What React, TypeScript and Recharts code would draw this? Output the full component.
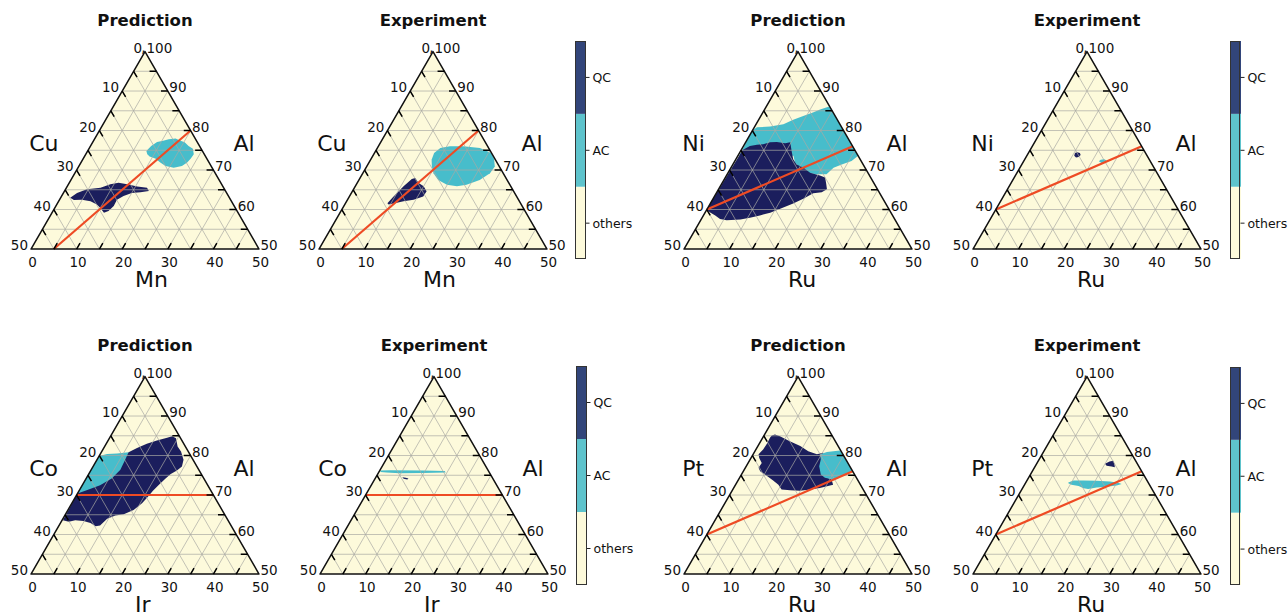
import React from 'react';
import { ScatterChart, Scatter, XAxis, YAxis, BarChart, Bar } from 'recharts';

type Pt = [number, number]; // [bottom-axis element %, Al %]

// ---------------- data ----------------
const sideTicks = [0, 10, 20, 30, 40, 50];
const alTicks = [50, 60, 70, 80, 90, 100];
const gridSteps = [5, 10, 15, 20, 25, 30, 35, 40, 45];
const phaseNames = ['others', 'AC', 'QC'];
const phaseShares = [1, 1, 1];

// Al-Cu-Mn  ([Mn, Al])
const cuMnPredAC: Pt[] = [[12.9, 74.8], [13.3, 76.1], [14.1, 77.1], [15.3, 77.4], [16.3, 77.8], [17.7, 78.0], [19.1, 77.4], [20.2, 77.0], [21.5, 76.1], [22.8, 75.4], [23.7, 74.0], [23.6, 72.9], [23.3, 71.9], [22.6, 71.0], [21.0, 70.6], [19.0, 71.0], [17.4, 71.9], [15.8, 72.9], [14.3, 73.4], [13.5, 74.0]];
const cuMnPredQC: Pt[] = [[2.1, 63.0], [3.0, 64.2], [4.7, 65.1], [7.5, 65.5], [9.2, 66.4], [10.8, 66.8], [12.9, 66.4], [15.4, 65.8], [17.7, 65.5], [18.5, 64.7], [16.8, 64.4], [15.0, 64.2], [13.6, 63.4], [12.6, 62.5], [12.7, 60.9], [12.2, 59.6], [11.4, 59.2], [10.0, 60.4], [8.8, 61.3], [7.0, 62.1], [4.9, 62.5], [3.2, 62.4]];
const cuMnExpAC: Pt[] = [[13.4, 72.6], [13.1, 74.3], [13.8, 75.6], [15.7, 76.0], [18.6, 76.0], [22.5, 75.6], [25.6, 74.3], [27.0, 72.8], [28.1, 70.9], [27.9, 69.2], [26.5, 67.5], [24.2, 66.3], [22.3, 65.9], [19.9, 66.3], [17.4, 67.5], [15.5, 69.2], [14.3, 70.9]];
const cuMnExpQC: Pt[] = [[9.2, 61.6], [9.7, 63.3], [10.6, 65.9], [11.5, 67.7], [12.1, 68.0], [13.5, 66.7], [15.0, 65.9], [16.3, 64.6], [16.2, 63.3], [14.5, 62.5], [12.5, 62.1], [10.6, 61.5], [9.6, 61.3]];
const cuMnCut: Pt[] = [[5, 50], [20, 80]];

// Al-Ni-Ru  ([Ru, Al])
const niRuPredAC: Pt[] = [[0, 80.0], [0.6, 80.8], [3.4, 81.0], [6.0, 81.6], [7.6, 82.7], [9.3, 83.7], [11.1, 84.6], [12.2, 85.3], [13.8, 86.1], [26.4, 73.6], [25.6, 72.3], [23.9, 71.4], [22.5, 70.6], [21.8, 68.9], [19.6, 68.9], [17.2, 69.3], [15.1, 70.6], [13.4, 71.9], [12.2, 73.6], [8.5, 73.6], [0.3, 73.6]];
const niRuPredQC: Pt[] = [[0.3, 75.1], [1.4, 76.1], [2.8, 76.4], [4.1, 76.5], [5.4, 77.0], [6.8, 77.1], [8.8, 76.8], [9.8, 77.0], [11.2, 74.8], [12.6, 72.7], [14.0, 71.4], [15.9, 70.6], [18.0, 69.3], [20.5, 68.6], [21.9, 68.1], [23.0, 66.4], [23.8, 65.1], [23.0, 64.4], [21.3, 64.1], [19.8, 62.7], [18.2, 61.5], [16.0, 60.2], [14.3, 59.2], [12.4, 58.5], [10.5, 57.9], [8.6, 57.5], [5.7, 57.3], [4.1, 57.6], [2.6, 58.5], [1.0, 59.3], [0, 60.0]];
const niRuExpQC: Pt[] = [[10.4, 73.6], [10.2, 74.3], [10.6, 74.5], [11.3, 74.3], [11.7, 73.8], [11.5, 73.3], [11.0, 73.2]];
const niRuExpAC: Pt[] = [[16.5, 72.2], [16.7, 72.6], [17.4, 72.7], [18.1, 72.4], [18.1, 71.9], [17.3, 71.8]];
const ruCut: Pt[] = [[0, 60], [24, 76]];

// Al-Co-Ir  ([Ir, Al])
const coIrPredAC: Pt[] = [[0, 79.9], [1.5, 80.4], [3.6, 80.5], [6.0, 80.8], [7.1, 79.6], [5.7, 70.4], [0, 70.4]];
const coIrPredQC: Pt[] = [[0, 70.4], [1.7, 71.3], [3.9, 72.5], [5.6, 74.2], [6.4, 76.4], [6.2, 78.9], [6.0, 80.8], [7.3, 81.9], [8.9, 83.0], [10.7, 83.8], [12.6, 84.5], [13.5, 84.9], [14.6, 84.4], [16.0, 82.3], [17.4, 81.0], [19.0, 78.9], [19.5, 77.2], [18.9, 76.2], [18.0, 75.3], [17.4, 74.1], [16.7, 72.5], [16.2, 71.1], [15.8, 69.4], [15.4, 67.9], [14.4, 66.2], [12.8, 65.1], [11.1, 64.8], [9.7, 64.0], [9.0, 62.3], [8.1, 62.1], [6.6, 62.9], [4.8, 63.4], [2.9, 63.6], [1.7, 63.2], [0.2, 63.6]];
const coIrExpAC: Pt[] = [[0.1, 76.2], [2.2, 76.3], [9.5, 76.2], [14.3, 76.1], [14.7, 75.7], [9.8, 75.6], [4.7, 75.5], [1.7, 75.7], [0.4, 75.8]];
const coIrExpQC: Pt[] = [[5.8, 74.5], [6.6, 74.4], [7.3, 74.2], [7.2, 73.9], [6.3, 74.1]];
const irCut: Pt[] = [[0, 70], [30, 70]];

// Al-Pt-Ru  ([Ru, Al])
const ptRuPredQC: Pt[] = [[1.7, 85.1], [2.3, 85.3], [3.6, 84.9], [6.4, 83.6], [9.3, 82.4], [11.7, 81.1], [14.0, 80.3], [15.2, 80.7], [15.7, 79.0], [16.2, 77.3], [18.2, 74.8], [20.4, 73.9], [21.4, 72.6], [18.9, 71.8], [17.0, 71.4], [14.9, 71.1], [12.7, 71.2], [10.7, 71.4], [9.4, 72.6], [7.7, 73.7], [5.8, 74.8], [3.7, 76.0], [2.9, 76.9], [3.0, 78.1], [1.8, 79.4], [1.2, 80.3], [1.6, 81.5], [1.7, 83.1], [1.6, 84.5]];
const ptRuPredAC: Pt[] = [[14.7, 80.3], [15.9, 80.9], [17.2, 81.1], [18.6, 81.3], [24.0, 76.0], [23.0, 75.4], [21.9, 74.6], [20.7, 73.9], [18.7, 74.4], [17.4, 75.2], [16.0, 77.3], [15.5, 79.0]];
const ptRuExpQC: Pt[] = [[15.0, 77.9], [15.7, 78.5], [16.4, 78.7], [17.0, 78.0], [17.6, 77.0], [16.8, 77.2], [15.6, 77.4]];
const ptRuExpAC: Pt[] = [[9.3, 73.2], [10.2, 73.7], [12.3, 73.7], [15.3, 73.6], [18.3, 73.4], [20.3, 73.1], [21.2, 72.8], [20.3, 72.4], [18.2, 72.1], [16.2, 71.9], [14.5, 71.5], [13.4, 71.7], [12.0, 72.3], [10.3, 72.6], [9.4, 73.0]];

// ---------------- styling / helpers ----------------
const FONT = '"DejaVu Sans", Verdana, sans-serif';
const NAVY = '#1b1e5d';
const CYAN = '#47bdcb';
const CREAM = '#fdfadb';
const CB_QC = '#32457a';
const CB_AC = '#5ec3cc';
const PX = 4.56;
const K = Math.sqrt(3) / 2;
const toXY = (p: Pt) => ({ x: p[0] + (p[1] - 50) / 2, y: (p[1] - 50) * K });

function PolyPath(props: any) {
  const pts = (props.points || []).filter((q: any) => q && q.x != null && q.y != null);
  if (!pts.length) return null;
  const d = pts.map((q: any, i: number) => `${i ? 'L' : 'M'}${q.x},${q.y}`).join('') + 'Z';
  return <path d={d} fill={props.paint} stroke={props.edge || 'none'} strokeWidth={props.w || 0} strokeLinejoin="round" />;
}

function SegPath(props: any) {
  const pts = props.points || [];
  let d = '';
  for (let i = 0; i + 1 < pts.length; i += 2) d += `M${pts[i].x},${pts[i].y}L${pts[i + 1].x},${pts[i + 1].y}`;
  return <path d={d} fill="none" stroke={props.edge} strokeWidth={props.w} />;
}

const noShape = () => <g />;
const textShape = (p: any) => {
  const d = p.payload || p;
  return (
    <text x={p.cx + (d.dx || 0)} y={p.cy + (d.dy || 0)} textAnchor={d.anchor} dominantBaseline="central"
      fontSize={d.size} fontWeight={d.bold ? 'bold' : 'normal'} fontFamily={FONT} fill="#111">{d.text}</text>
  );
};

type Region = { pts: Pt[]; color: string };

function Ternary({ bx, by, title, leftName, bottomName, regions, cut }: { bx: number; by: number; title: string; leftName: string; bottomName: string; regions: Region[]; cut: Pt[] }) {
  const W = 300, H = 300, OX = 30, OY = 250;
  const xd = [-OX / PX, (W - OX) / PX];
  const yd = [-(H - OY) / PX, OY / PX];
  const tri = ([[0, 50], [50, 50], [0, 100]] as Pt[]).map(toXY);
  const grid: Pt[] = [];
  const ticks: Pt[] = [];
  const T = 1.5;
  gridSteps.forEach((v) => {
    grid.push([0, 50 + v], [50 - v, 50 + v]);
    grid.push([v, 50], [v, 100 - v]);
    grid.push([50 - v, 50], [0, 100 - v]);
    ticks.push([v, 50], [v, 50 + T]);
    ticks.push([50 - v, 50 + v], [50 - v - T, 50 + v]);
    ticks.push([0, 100 - v], [T, 100 - v - T]);
  });
  const labels = [
    ...sideTicks.map((t) => ({ ...toXY([t, 50]), text: String(t), anchor: 'middle', dx: 1.5, dy: 12.5, size: 13.5 })),
    ...sideTicks.map((t) => ({ ...toXY([0, 100 - t]), text: String(t), anchor: 'end', dx: -3, dy: -4, size: 13.5 })),
    ...alTicks.map((a) => ({ ...toXY([100 - a, a]), text: String(a), anchor: 'start', dx: 1.5, dy: -4, size: 13.5 })),
    { ...toXY([0, 100]), text: ',', anchor: 'middle', dx: -1.5, dy: -5, size: 13.5 },
    { x: 25, y: 50.2, text: title, anchor: 'middle', size: 16.5, bold: true },
    { x: -0.4, y: 23.1, text: leftName, anchor: 'start', size: 22 },
    { x: 44.4, y: 23.1, text: 'Al', anchor: 'start', size: 22 },
    { x: 22.8, y: -6.6, text: bottomName, anchor: 'start', size: 22 },
  ];
  return (
    <div style={{ position: 'absolute', left: bx - OX, top: by - OY, width: W, height: H }}>
      <ScatterChart width={W} height={H} margin={{ top: 0, right: 0, bottom: 0, left: 0 }}>
        <XAxis type="number" dataKey="x" domain={xd} hide />
        <YAxis type="number" dataKey="y" domain={yd} hide />
        <Scatter data={tri} line={<PolyPath paint={CREAM} />} shape={noShape} isAnimationActive={false} />
        {regions.map((r, i) => (
          <Scatter key={i} data={r.pts.map(toXY)} line={<PolyPath paint={r.color} />} shape={noShape} isAnimationActive={false} />
        ))}
        <Scatter data={grid.map(toXY)} line={<SegPath edge="#a9a9a4" w={0.7} />} shape={noShape} isAnimationActive={false} />
        <Scatter data={cut.map(toXY)} line={<SegPath edge="#ee4b24" w={2.2} />} shape={noShape} isAnimationActive={false} />
        <Scatter data={tri} line={<PolyPath paint="none" edge="#111" w={1.5} />} shape={noShape} isAnimationActive={false} />
        <Scatter data={ticks.map(toXY)} line={<SegPath edge="#000" w={1.5} />} shape={noShape} isAnimationActive={false} />
        <Scatter data={labels} shape={textShape} isAnimationActive={false} />
      </ScatterChart>
    </div>
  );
}

const cbRow = [{ name: 'phase', others: phaseShares[0], AC: phaseShares[1], QC: phaseShares[2] }];

function ColorBar({ left, top, height }: { left: number; top: number; height: number }) {
  const axisW = 60;
  const barW = 10.5;
  return (
    <div style={{ position: 'absolute', left, top }}>
      <BarChart width={barW + axisW} height={height} data={cbRow} margin={{ top: 0, right: 0, bottom: 0, left: 0 }} barCategoryGap={0} barGap={0}>
        <XAxis dataKey="name" hide />
        <YAxis orientation="right" type="number" domain={[0, 3]} ticks={[0.5, 1.5, 2.5]} interval={0}
          tickFormatter={(v: number) => phaseNames[Math.floor(v)]} width={axisW} axisLine={false}
          tickLine={{ stroke: '#222', strokeWidth: 1 }} tickSize={4} tickMargin={3}
          tick={{ fontSize: 12.5, fill: '#111', fontFamily: FONT }} />
        <Bar dataKey="others" stackId="p" fill={CREAM} isAnimationActive={false} />
        <Bar dataKey="AC" stackId="p" fill={CB_AC} isAnimationActive={false} />
        <Bar dataKey="QC" stackId="p" fill={CB_QC} isAnimationActive={false} />
      </BarChart>
      <div style={{ position: 'absolute', left: 0, top: 0, width: barW, height, border: '1px solid #333', boxSizing: 'border-box', pointerEvents: 'none' }} />
    </div>
  );
}

export default function App() {
  const topY = 249.3;
  const botY = 573.7;
  return (
    <div style={{ position: 'absolute', left: 0, top: 0, width: 1288, height: 614, overflow: 'hidden', background: '#fff', fontFamily: FONT }}>
      <Ternary bx={30.7} by={topY} title="Prediction" leftName="Cu" bottomName="Mn" cut={cuMnCut}
        regions={[{ pts: cuMnPredAC, color: CYAN }, { pts: cuMnPredQC, color: NAVY }]} />
      <Ternary bx={318.7} by={topY} title="Experiment" leftName="Cu" bottomName="Mn" cut={cuMnCut}
        regions={[{ pts: cuMnExpAC, color: CYAN }, { pts: cuMnExpQC, color: NAVY }]} />
      <Ternary bx={684} by={topY} title="Prediction" leftName="Ni" bottomName="Ru" cut={ruCut}
        regions={[{ pts: niRuPredAC, color: CYAN }, { pts: niRuPredQC, color: NAVY }]} />
      <Ternary bx={972.7} by={topY} title="Experiment" leftName="Ni" bottomName="Ru" cut={ruCut}
        regions={[{ pts: niRuExpAC, color: CYAN }, { pts: niRuExpQC, color: NAVY }]} />
      <Ternary bx={30.7} by={botY} title="Prediction" leftName="Co" bottomName="Ir" cut={irCut}
        regions={[{ pts: coIrPredAC, color: CYAN }, { pts: coIrPredQC, color: NAVY }]} />
      <Ternary bx={320} by={botY} title="Experiment" leftName="Co" bottomName="Ir" cut={irCut}
        regions={[{ pts: coIrExpAC, color: CYAN }, { pts: coIrExpQC, color: NAVY }]} />
      <Ternary bx={684} by={botY} title="Prediction" leftName="Pt" bottomName="Ru" cut={ruCut}
        regions={[{ pts: ptRuPredQC, color: NAVY }, { pts: ptRuPredAC, color: CYAN }]} />
      <Ternary bx={972.7} by={botY} title="Experiment" leftName="Pt" bottomName="Ru" cut={ruCut}
        regions={[{ pts: ptRuExpAC, color: CYAN }, { pts: ptRuExpQC, color: NAVY }]} />
      <ColorBar left={575} top={40.7} height={218.6} />
      <ColorBar left={1229.5} top={40.7} height={218.6} />
      <ColorBar left={576} top={366} height={219} />
      <ColorBar left={1229.5} top={366.5} height={218.5} />
    </div>
  );
}
